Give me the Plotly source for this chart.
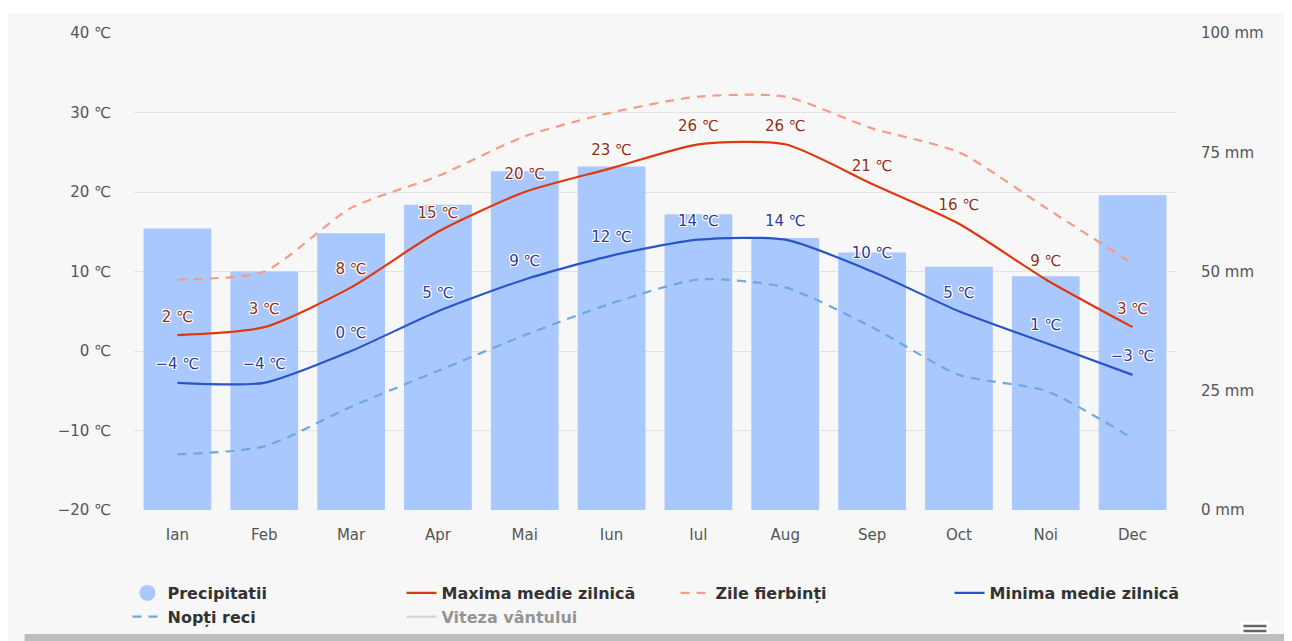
import plotly.graph_objects as go

months = ["Ian", "Feb", "Mar", "Apr", "Mai", "Iun", "Iul", "Aug", "Sep", "Oct", "Noi", "Dec"]
precip_mm = [59, 50, 58, 64, 71, 72, 62, 57, 54, 51, 49, 66]
max_temp = [2, 3, 8, 15, 20, 23, 26, 26, 21, 16, 9, 3]
hot_days = [9, 10, 18, 22, 27, 30, 32, 32, 28, 25, 18, 11]
min_temp = [-4, -4, 0, 5, 9, 12, 14, 14, 10, 5, 1, -3]
cold_nights = [-13, -12, -7, -2.5, 2, 6, 9, 8, 3, -3, -5, -11]

left_ticks = [-20, -10, 0, 10, 20, 30, 40]
right_ticks = [0, 25, 50, 75, 100]


def fmt(v):
    return (f"{v} ℃").replace("-", "−")


# the page body has an 8px margin, so the figure starts at page (8, 8)
OFF = 8
PAGE_W, PAGE_H = 1292, 641
W, H = PAGE_W - OFF, PAGE_H - OFF
# plot area in page pixels: x 133.5..1176.5, y 33..510
ML = 133.5 - OFF
MR = PAGE_W - 1176.5
MT = 33 - OFF
MB = PAGE_H - 510
PW, PH = W - ML - MR, H - MT - MB


def px(x):  # page x -> paper fraction
    return (x - OFF - ML) / PW


def py(y):  # page y -> paper fraction
    return (H - MB - (y - OFF)) / PH


BAR = "#a9c8fd"
MAXC = "#e0380e"
HOTC = "#f79a86"
MINC = "#2a55c8"
COLDC = "#6ea8e2"
CLEAR = "rgba(0,0,0,0)"
halo = ("1px 1px 0 white, -1px -1px 0 white, 1px -1px 0 white, -1px 1px 0 white, "
        "0 1px 0 white, 0 -1px 0 white, 1px 0 0 white, -1px 0 0 white")
SM = 0.65
FONT = "DejaVu Sans"

fig = go.Figure()

# precipitation on the primary (mm, right) axis so that it sits underneath the lines
fig.add_trace(go.Bar(
    x=months, y=precip_mm, yaxis="y", marker=dict(color=BAR, line=dict(width=0)),
    name="Precipitatii", showlegend=False, hoverinfo="skip"))

fig.add_trace(go.Scatter(x=[None], y=[None], mode="markers", name="Precipitatii", yaxis="y2",
                         marker=dict(color=BAR, size=19, symbol="circle")))

fig.add_trace(go.Scatter(
    x=months, y=max_temp, name="Maxima medie zilnică", mode="lines+markers+text", yaxis="y2",
    line=dict(color=MAXC, width=2.2, shape="spline", smoothing=SM),
    marker=dict(size=14, color=CLEAR, line=dict(width=0)),
    text=[fmt(v) for v in max_temp], textposition="top center",
    textfont=dict(color="#922e14", size=15, family=FONT, shadow=halo),
    cliponaxis=False))

fig.add_trace(go.Scatter(
    x=months, y=hot_days, name="Zile fierbinți", mode="lines", yaxis="y2",
    line=dict(color=HOTC, width=2.2, shape="spline", smoothing=SM, dash="9px,7px")))

fig.add_trace(go.Scatter(
    x=months, y=min_temp, name="Minima medie zilnică", mode="lines+markers+text", yaxis="y2",
    line=dict(color=MINC, width=2.2, shape="spline", smoothing=SM),
    marker=dict(size=14, color=CLEAR, line=dict(width=0)),
    text=[fmt(v) for v in min_temp], textposition="top center",
    textfont=dict(color="#2b3c9c", size=15, family=FONT, shadow=halo),
    cliponaxis=False))

fig.add_trace(go.Scatter(
    x=months, y=cold_nights, name="Nopți reci", mode="lines", yaxis="y2",
    line=dict(color=COLDC, width=2.2, shape="spline", smoothing=SM, dash="9px,7px")))

fig.add_trace(go.Scatter(
    x=[None], y=[None], name="Viteza vântului", mode="lines", yaxis="y2",
    line=dict(color="#b0b0b0", width=2.2), visible="legendonly"))

shapes = [
    dict(type="rect", xref="paper", yref="paper", x0=px(0), x1=px(PAGE_W), y0=py(13), y1=py(0),
         fillcolor="white", line=dict(width=0), layer="below"),
    dict(type="rect", xref="paper", yref="paper", x0=px(1289), x1=px(PAGE_W + 5), y0=py(PAGE_H + 5), y1=py(29),
         fillcolor="#bdbdbd", line=dict(width=0), layer="below"),
    dict(type="rect", xref="paper", yref="paper", x0=px(24), x1=px(PAGE_W + 5), y0=py(PAGE_H + 5), y1=py(634),
         fillcolor="#bdbdbd", line=dict(width=0), layer="below"),
    dict(type="rect", xref="paper", yref="paper", x0=px(1241), x1=px(1270), y0=py(634), y1=py(621),
         fillcolor="white", line=dict(width=0), layer="below"),
    dict(type="line", xref="paper", yref="paper", x0=px(1244), x1=px(1267), y0=py(626), y1=py(626),
         line=dict(color="#666", width=2.5), layer="below"),
    dict(type="line", xref="paper", yref="paper", x0=px(1244), x1=px(1267), y0=py(631), y1=py(631),
         line=dict(color="#666", width=2.5), layer="below"),
]

fig.update_layout(
    width=W, height=H,
    margin=dict(l=ML, r=MR, t=MT, b=MB, pad=0, autoexpand=False),
    paper_bgcolor="#f7f7f7", plot_bgcolor="#f7f7f7",
    font=dict(family=FONT, color="#555"),
    bargap=0.22,
    shapes=shapes,
    showlegend=True,
    legend=dict(orientation="h", x=px(127), xanchor="left", y=py(576), yanchor="top",
                entrywidth=229, entrywidthmode="pixels", bgcolor="rgba(0,0,0,0)",
                font=dict(family=FONT, size=16, color="#333", weight="bold"),
                itemclick=False, itemdoubleclick=False, traceorder="normal"),
    xaxis=dict(range=[-0.5, 11.5], showgrid=False, zeroline=False, showline=False, ticks="",
               automargin=False, tickfont=dict(size=15, color="#555"), ticklabelstandoff=14,
               fixedrange=True),
    yaxis=dict(range=[0, 100], tickvals=right_ticks, ticktext=[f"{v} mm" for v in right_ticks],
               side="right", showgrid=False, zeroline=False, showline=False, automargin=False,
               ticks="", tickfont=dict(size=15, color="#555"), ticklabelstandoff=24, fixedrange=True),
    yaxis2=dict(range=[-20, 40], tickvals=left_ticks, ticktext=[fmt(v) for v in left_ticks],
                overlaying="y", side="left", showgrid=True, gridcolor="#e3e3e3", gridwidth=1,
                zeroline=False, showline=False, automargin=False,
                ticks="", tickfont=dict(size=15, color="#555"), ticklabelstandoff=22, fixedrange=True),
)

fig.write_html("out.html", config={"displayModeBar": False})
